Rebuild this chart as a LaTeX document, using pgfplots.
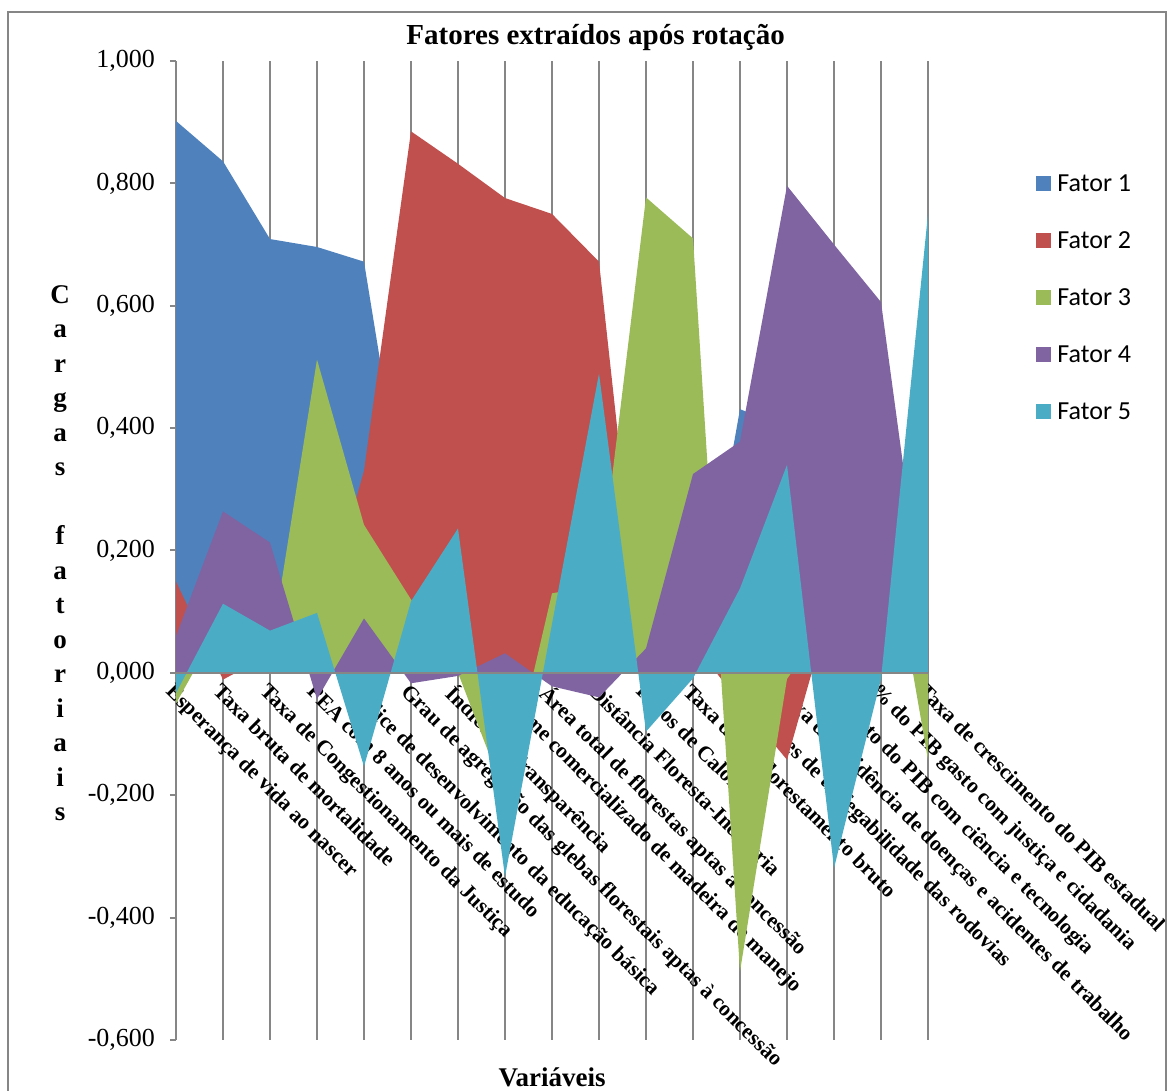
\documentclass[border=0pt]{standalone}
\usepackage{pgfplots}
\pgfplotsset{compat=1.18}
\usepackage{pgfplotstable}
\usepackage{fontspec}
\setmainfont{Liberation Serif}
\newfontfamily\calibri{Carlito}

\definecolor{f1}{HTML}{4F81BD}
\definecolor{f2}{HTML}{C0504D}
\definecolor{f3}{HTML}{9BBB59}
\definecolor{f4}{HTML}{8064A2}
\definecolor{f5}{HTML}{4BACC6}
\definecolor{gridgray}{HTML}{868686}

% Cargas fatoriais (rotated loadings) for each variable and factor
\pgfplotstableread{
x  f1     f2     f3     f4     f5
0  0.902  0.149 -0.050  0.060 -0.033
1  0.836 -0.011  0.088  0.264  0.113
2  0.709  0.030  0.030  0.213  0.069
3  0.696  0.060  0.512 -0.043  0.098
4  0.672  0.330  0.242  0.089 -0.153
5  0.200  0.885  0.120 -0.017  0.117
6  0.150  0.832  0.000 -0.005  0.236
7  0.100  0.776 -0.200  0.032 -0.333
8  0.070  0.750  0.130 -0.022  0.080
9  0.050  0.672  0.144 -0.040  0.489
10 0.020 -0.030  0.777  0.040 -0.096
11 0.000  0.050  0.710  0.325 -0.009
12 0.431 -0.050 -0.488  0.378  0.138
13 0.400 -0.142 -0.010  0.796  0.340
14 0.300  0.128  0.100  0.700 -0.319
15 0.200  0.100  0.300  0.606 -0.010
16 0.100  0.100 -0.142  0.040  0.750
}\loadings

\begin{document}
\begin{tikzpicture}
\begin{axis}[
  at={(0,0)}, anchor=south west,
  scale only axis,
  width=376bp, height=489.5bp,
  xmin=0, xmax=16, ymin=-0.6, ymax=1,
  enlargelimits=false,
  axis x line=middle, axis y line=left,
  axis line style={draw=gridgray, line width=1bp, -},
  hide obscured x ticks=false, hide obscured y ticks=false,
  xtick={0,...,16},
  xticklabels={
    Esperança de vida ao nascer,
    Taxa bruta de mortalidade,
    Taxa de Congestionamento da Justiça,
    PEA com 8 anos ou mais de estudo,
    Índice de desenvolvimento da educação básica,
    Grau de agregação das glebas florestais aptas à concessão,
    Índice de Transparência,
    Volume comercializado de madeira de manejo,
    Área total de florestas aptas à concessão,
    Distância Floresta-Indústria,
    Focos de Calor,
    Taxa de desflorestamento bruto,
    Condições de trafegabilidade das rodovias,
    Taxa de incidência de doenças e acidentes de trabalho,
    \% gasto do PIB com ciência e tecnologia,
    \% do PIB gasto com justiça e cidadania,
    Taxa de crescimento do PIB estadual},
  ytick={-0.6,-0.4,-0.2,0,0.2,0.4,0.6,0.8,1.0},
  yticklabel style={
    font=\fontsize{13bp}{15bp}\selectfont, xshift=-4bp,
    /pgf/number format/.cd, fixed, fixed zerofill, precision=3,
    use comma, assume math mode=true},
  xticklabel style={
    font=\bfseries\fontsize{10.8bp}{13bp}\selectfont,
    rotate=-45, anchor=north west, inner sep=1bp},
  tick align=outside,
  major tick length=3bp,
  tick style={draw=gridgray, line width=1bp},
  xmajorgrids=true,
  grid style={draw=gridgray, line width=1bp},
  title={Fatores extraídos após rotação},
  title style={font=\bfseries\fontsize{14.5bp}{17bp}\selectfont,
    at={(axis description cs:0.558,1.0169)}, anchor=base, yshift=-6pt},
  xlabel={Variáveis},
  xlabel style={font=\bfseries\fontsize{13.5bp}{16bp}\selectfont,
    at={(axis description cs:0.5,-0.047)}, anchor=base},
  ylabel={C\\a\\r\\g\\a\\s\\[17.25bp]f\\a\\t\\o\\r\\i\\a\\i\\s},
  ylabel style={font=\bfseries\fontsize{13.5bp}{17.25bp}\selectfont,
    rotate=-90, align=center,
    at={(axis description cs:-0.154,0.497)}, anchor=center},
  legend style={
    at={(axis description cs:1.1436,0.8836)}, anchor=north west,
    draw=none, fill=none, inner sep=0pt,
    row sep=20.5bp, column sep=3bp,
    font=\calibri\fontsize{13bp}{15bp}\selectfont,
    nodes={inner sep=0pt, text height=8bp, text depth=0bp}},
  legend cell align=left,
  legend image code/.code={\fill[#1] (0bp,-3.75bp) rectangle (7.5bp,3.75bp);},
]
\addplot[fill=f1, draw=none] table[x=x, y=f1] {\loadings} \closedcycle;
\addlegendentry{Fator 1}
\addplot[fill=f2, draw=none] table[x=x, y=f2] {\loadings} \closedcycle;
\addlegendentry{Fator 2}
\addplot[fill=f3, draw=none] table[x=x, y=f3] {\loadings} \closedcycle;
\addlegendentry{Fator 3}
\addplot[fill=f4, draw=none] table[x=x, y=f4] {\loadings} \closedcycle;
\addlegendentry{Fator 4}
\addplot[fill=f5, draw=none] table[x=x, y=f5] {\loadings} \closedcycle;
\addlegendentry{Fator 5}
% horizontal category axis line kept above the filled areas
\draw[gridgray, line width=1bp] (axis cs:0,0) -- (axis cs:16,0);
\end{axis}
% chart area frame
\draw[gridgray, line width=1bp] (-84bp,-40bp) -- (-84bp,514bp) -- (495bp,514bp) -- (495bp,-40bp);
\pgfresetboundingbox
\useasboundingbox (-88bp,-25.5bp) rectangle (498bp,520bp);
\end{tikzpicture}
\end{document}
